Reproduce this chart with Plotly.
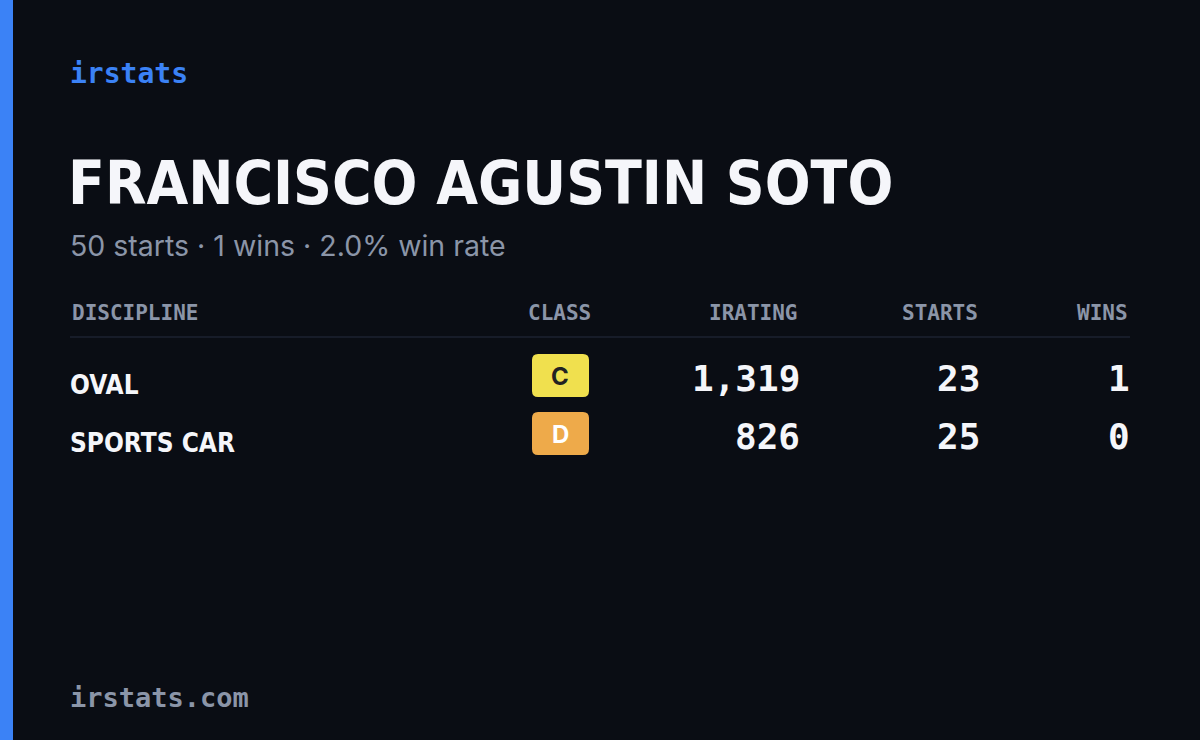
import plotly.graph_objects as go

driver = "FRANCISCO AGUSTIN SOTO"
total_starts = 50
total_wins = 1
disciplines = ["OVAL", "SPORTS CAR"]
classes = ["C", "D"]
class_colors = {"C": "#f0e04e", "D": "#eeaa4a"}
iratings = [1319, 826]
starts = [23, 25]
wins = [1, 0]
columns = ["DISCIPLINE", "CLASS", "IRATING", "STARTS", "WINS"]

BG = "#0a0d14"
MONO = "DejaVu Sans Mono, Liberation Mono, monospace"
SANS = "Inter, Noto Sans, sans-serif"
COND = "DejaVu Sans Condensed, Liberation Sans Narrow, DejaVu Sans, sans-serif"

fig = go.Figure()
ann = []
shapes = []

def txt(x, y, s, size, color, family, anchor="left", weight="normal"):
    ann.append(dict(x=x, y=y, text=s, showarrow=False, xanchor=anchor, yanchor="middle",
                    font=dict(size=size, color=color, family=family, weight=weight)))

def rounded(x0, x1, y0, y1, r, color):
    p = (f"M{x0+r},{y0} L{x1-r},{y0} Q{x1},{y0} {x1},{y0+r} L{x1},{y1-r} Q{x1},{y1} {x1-r},{y1} "
         f"L{x0+r},{y1} Q{x0},{y1} {x0},{y1-r} L{x0},{y0+r} Q{x0},{y0} {x0+r},{y0} Z")
    shapes.append(dict(type="path", path=p, fillcolor=color, line_width=0, layer="below"))

# left accent bar
shapes.append(dict(type="rect", x0=0, x1=13, y0=0, y1=740, fillcolor="#3b82f6", line_width=0))

txt(68, 73, "irstats", 28, "#3b82f6", MONO, weight="bold")
txt(66, 183, driver, 60, "#f5f6fa", COND, weight="bold")
rate = total_wins / total_starts * 100
txt(68, 245, f"{total_starts} starts · {total_wins} wins · {rate:.1f}% win rate", 28.5, "#8b95a8", SANS)

# header
col_x = [70, 593, 800, 980, 1130]
col_anchor = ["left", "right", "right", "right", "right"]
for c, x, a in zip(columns, col_x, col_anchor):
    txt(x, 313, c, 21, "#8b95a8", MONO, anchor=a, weight="bold")
shapes.append(dict(type="line", x0=70, x1=1130, y0=337, y1=337, line=dict(color="#1c2230", width=1.5)))

row_y = [380, 438]
for i, y in enumerate(row_y):
    txt(68, y + 5, disciplines[i], 26, "#f5f6fa", COND, weight="bold")
    rounded(532, 589, y - 26, y + 17, 6, class_colors[classes[i]])
    txt(560, y - 4, classes[i], 24, "#222222" if classes[i] == "C" else "#ffffff", SANS, anchor="center", weight="bold")
    txt(802, y - 2, f"{iratings[i]:,}", 36, "#f5f6fa", MONO, anchor="right", weight="bold")
    txt(982, y - 2, str(starts[i]), 36, "#f5f6fa", MONO, anchor="right", weight="bold")
    txt(1132, y - 2, str(wins[i]), 36, "#f5f6fa", MONO, anchor="right", weight="bold")

txt(68, 697, "irstats.com", 27, "#8b95a8", MONO, weight="bold")

fig.update_layout(
    width=1200, height=740, margin=dict(l=0, r=0, t=0, b=0),
    paper_bgcolor=BG, plot_bgcolor=BG,
    xaxis=dict(range=[0, 1200], visible=False, fixedrange=True),
    yaxis=dict(range=[740, 0], visible=False, fixedrange=True),
    annotations=ann, shapes=shapes, showlegend=False,
)
fig.write_html("out.html", config={"displayModeBar": False},
               post_script="document.body.style.margin='0';document.body.style.background='#0a0d14';")
